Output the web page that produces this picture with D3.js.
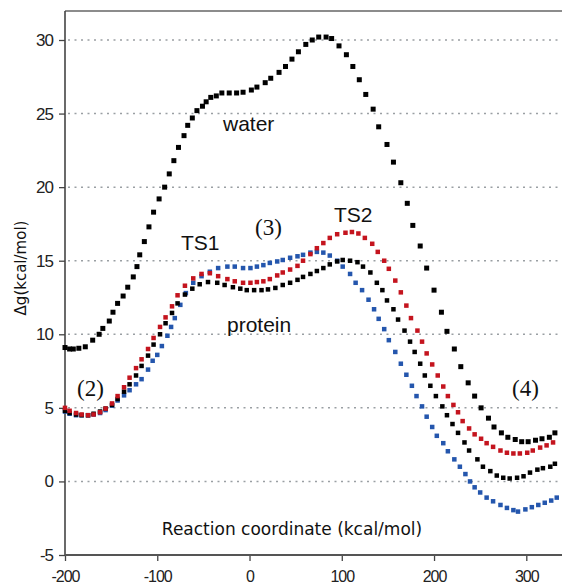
<!DOCTYPE html>
<html>
<head>
<meta charset="utf-8">
<script src="https://cdn.jsdelivr.net/npm/d3@7"></script>
<style>
  body { margin: 0; background: #fff; }
  svg { display: block; }
  .tick text { font-family: "Liberation Sans", Arial, sans-serif; font-size: 17px; letter-spacing: -1px; fill: #222; }
  .xaxis .tick text { font-size: 16px; }
  .grid line { stroke: #9a9fa3; stroke-width: 1.5; stroke-dasharray: 2,4.5; }
  .note { font-family: "Liberation Sans", Arial, sans-serif; font-size: 21px; fill: #111; }
  .state { font-family: "Liberation Serif", "Times New Roman", serif; font-size: 23px; fill: #111; }
  .title { font-family: "DejaVu Sans", sans-serif; fill: #111; }
</style>
</head>
<body>
<svg id="chart" width="562" height="586"></svg>
<script>
"use strict";

// Free energy profiles, x = reaction coordinate, y = dg (kcal/mol)
const waterX = [-200, -195, -191, -185, -178, -170, -163, -159, -152, -148, -143, -137, -132, -126, -122, -119,
    -114, -109, -104, -98, -92, -87, -82, -77, -71, -67, -62, -57, -51, -47, -42, -36, -30, -22, -14, -7,
    2, 8, 17, 23, 32, 39, 46, 53, 61, 68, 75, 83, 89, 97, 105, 112, 119, 126, 134, 140, 149, 156, 164,
    171, 177, 185, 192, 200, 208, 214, 222, 229, 237, 244, 251, 259, 265, 273, 280, 288, 295, 302, 310,
    317, 325, 331];
const waterY = [9.1, 9.0, 9.0, 9.05, 9.15, 9.6, 10.0, 10.4, 10.9, 11.5, 12.1, 12.6, 13.2, 13.9, 14.6, 15.4,
    16.3, 17.3, 18.3, 19.2, 20.0, 20.9, 21.8, 22.7, 23.5, 24.2, 24.7, 25.2, 25.5, 25.8, 26.1, 26.2, 26.4, 26.4, 26.4, 26.45,
    26.6, 26.8, 27.1, 27.4, 27.8, 28.2, 28.7, 29.2, 29.7, 30.0, 30.2, 30.2, 30.1, 29.6, 29.0, 28.2, 27.3, 26.3, 25.3, 24.1, 22.9, 21.7, 20.3,
    18.9, 17.4, 16.0, 14.5, 13.0, 11.5, 10.2, 9.0, 7.8, 6.7, 5.8, 5.0, 4.3, 3.7, 3.3, 3.0, 2.85, 2.7, 2.7, 2.8,
    2.9, 3.0, 3.3];

const blackX = [-200, -195, -188, -182, -175, -169, -162, -156, -149, -143, -136, -130, -123, -117, -110, -104,
    -97, -91, -84, -78, -70, -62, -54, -45, -35, -27, -18, -10, -3, 5, 13, 20, 28, 36, 44, 52, 58, 66, 73,
    80, 87, 95, 101, 109, 117, 123, 131, 138, 144, 149, 156, 161, 168, 174, 179, 185, 190, 196, 202, 209,
    214, 220, 226, 233, 238, 247, 253, 261, 268, 275, 282, 290, 297, 304, 312, 318, 326, 331];
const blackY = [4.8, 4.65, 4.55, 4.5, 4.5, 4.6, 4.75, 4.95, 5.2, 5.6, 6.1, 6.6, 7.2, 7.85, 8.55, 9.3,
    10.0, 10.75, 11.45, 12.1, 12.7, 13.1, 13.4, 13.55, 13.5, 13.35, 13.2, 13.1, 13.0, 13.0, 13.0, 13.05, 13.15, 13.35, 13.5, 13.7, 13.9, 14.1, 14.3,
    14.5, 14.75, 14.95, 15.05, 15.0, 14.9, 14.6, 14.2, 13.5, 13.0, 12.3, 11.7, 11.0, 10.25, 9.5, 8.8, 8.0, 7.2, 6.5, 5.8, 5.1,
    4.5, 3.9, 3.3, 2.65, 2.1, 1.5, 1.0, 0.7, 0.4, 0.25, 0.2, 0.25, 0.35, 0.6, 0.8, 0.9, 1.0, 1.2];

const redX = [-200, -195, -188, -182, -175, -169, -162, -156, -149, -143, -136, -130, -123, -117, -110, -104,
    -97, -91, -84, -78, -70, -61, -52, -43, -34, -24, -16, -7, 1, 8, 15, 22, 30, 36, 44, 52, 58, 66, 73,
    80, 87, 95, 104, 111, 118, 125, 133, 139, 146, 151, 158, 164, 170, 175, 182, 187, 192, 198, 204, 210,
    215, 221, 226, 231, 238, 244, 251, 257, 264, 272, 279, 286, 293, 301, 307, 315, 322, 329];
const redY = [5.0, 4.8, 4.65, 4.55, 4.5, 4.55, 4.7, 4.95, 5.3, 5.8, 6.4, 7.05, 7.7, 8.3, 9.0, 9.75,
    10.5, 11.15, 11.9, 12.65, 13.3, 13.8, 14.1, 14.15, 13.95, 13.75, 13.6, 13.5, 13.5, 13.55, 13.6, 13.75, 14.0, 14.2, 14.4, 14.65, 15.0, 15.45, 15.85,
    16.2, 16.55, 16.8, 16.9, 16.95, 16.85, 16.55, 16.15, 15.6, 15.0, 14.45, 13.65, 12.85, 11.95, 11.1, 10.25, 9.5, 8.7, 7.95, 7.2, 6.45,
    5.8, 5.2, 4.7, 4.1, 3.6, 3.2, 2.9, 2.6, 2.35, 2.1, 1.95, 1.9, 1.9, 1.95, 2.1, 2.3, 2.45, 2.65];

const blueX = [-200, -195, -188, -182, -175, -169, -162, -156, -149, -143, -136, -130, -123, -117, -110, -105,
    -100, -95, -89, -85, -81, -75, -69, -61, -52, -43, -34, -24, -16, -7, 1, 8, 15, 22, 30, 36, 44, 52, 58,
    66, 73, 80, 87, 95, 101, 109, 115, 122, 129, 135, 140, 146, 151, 158, 164, 170, 176, 181, 187, 192,
    198, 203, 210, 215, 222, 228, 234, 239, 244, 250, 257, 264, 272, 279, 286, 291, 299, 306, 313, 320, 327, 333];
const blueY = [4.75, 4.6, 4.5, 4.5, 4.5, 4.55, 4.65, 4.85, 5.15, 5.5, 5.85, 6.2, 6.6, 6.95, 7.6, 8.2,
    8.6, 9.2, 9.9, 10.5, 11.1, 12.0, 12.8, 13.5, 13.95, 14.25, 14.5, 14.6, 14.6, 14.5, 14.5, 14.6, 14.7, 14.85, 14.95, 15.05, 15.2, 15.3, 15.4,
    15.55, 15.6, 15.55, 15.35, 15.0, 14.6, 14.1, 13.5, 13.0, 12.35, 11.7, 11.05, 10.35, 9.6, 8.8, 8.0, 7.25, 6.5, 5.8, 5.1, 4.4,
    3.7, 3.1, 2.6, 2.05, 1.5, 1.0, 0.5, 0.0, -0.4, -0.75, -1.1, -1.35, -1.6, -1.8, -1.95, -2.05, -1.9, -1.75, -1.6, -1.45, -1.3, -1.1];

const xTicks = [-200, -100, 0, 100, 200, 300];
const yTicks = [-5, 0, 5, 10, 15, 20, 25, 30];

const svg = d3.select("#chart");
const plotLeft = 65, plotRight = 562, plotTop = 11, plotBottom = 555;

const x = d3.scaleLinear().domain([-200, 300]).range([plotLeft, 526.3]);
const y = d3.scaleLinear().domain([-5, 30]).range([plotBottom, 40]);

// Plain hyphen for negatives, as in the original figure.
const plainFormat = d => String(d);

// Dotted horizontal grid lines.
svg.append("g")
    .attr("class", "grid")
    .selectAll("line")
    .data(yTicks.filter(d => d > -5))
    .join("line")
    .attr("x1", plotLeft + 3)
    .attr("x2", plotRight)
    .attr("y1", d => y(d))
    .attr("y2", d => y(d));

// Frame: top line, left axis, bottom axis.
svg.append("line")
    .attr("x1", plotLeft).attr("x2", plotRight)
    .attr("y1", plotTop).attr("y2", plotTop)
    .attr("stroke", "#666").attr("stroke-width", 1.3);

let yAxis = svg.append("g")
    .attr("transform", "translate(" + plotLeft + ",0)")
    .call(d3.axisLeft(y).tickValues(yTicks).tickFormat(plainFormat).tickSize(6).tickPadding(6));
yAxis.select(".domain").remove();
yAxis.selectAll(".tick line").attr("stroke", "#444").attr("stroke-width", 1.3);

let xAxis = svg.append("g")
    .attr("class", "xaxis")
    .attr("transform", "translate(0," + plotBottom + ")")
    .call(d3.axisBottom(x).tickValues(xTicks).tickFormat(plainFormat).tickSize(6).tickPadding(9.5));
xAxis.select(".domain").remove();
xAxis.selectAll(".tick line").attr("stroke", "#444").attr("stroke-width", 1.3);

svg.append("line")
    .attr("x1", plotLeft).attr("x2", plotLeft)
    .attr("y1", plotTop).attr("y2", plotBottom + 1)
    .attr("stroke", "#444").attr("stroke-width", 1.6);
svg.append("line")
    .attr("x1", plotLeft).attr("x2", plotRight)
    .attr("y1", plotBottom).attr("y2", plotBottom)
    .attr("stroke", "#555").attr("stroke-width", 2);

// Square markers for each profile.
function drawSeries(xs, ys, color, size) {
    svg.append("g")
        .selectAll("rect")
        .data(xs.map((d, i) => [d, ys[i]]))
        .join("rect")
        .attr("x", d => x(d[0]) - size / 2)
        .attr("y", d => y(d[1]) - size / 2)
        .attr("width", size)
        .attr("height", size)
        .attr("fill", color);
}

drawSeries(waterX, waterY, "#000", 5);
drawSeries(blueX, blueY, "#2456ad", 4.5);
drawSeries(blackX, blackY, "#000", 4.5);
drawSeries(redX, redY, "#c4141e", 4.5);

// Annotations.
svg.append("text").attr("class", "note").attr("x", 223).attr("y", 131).text("water");
svg.append("text").attr("class", "note").attr("x", 181).attr("y", 250).text("TS1");
svg.append("text").attr("class", "note").attr("x", 334).attr("y", 222).text("TS2");
svg.append("text").attr("class", "note").attr("x", 227).attr("y", 332).text("protein");
svg.append("text").attr("class", "state").attr("x", 255).attr("y", 235).text("(3)");
svg.append("text").attr("class", "state").attr("x", 77).attr("y", 396).text("(2)");
svg.append("text").attr("class", "state").attr("x", 512).attr("y", 396).text("(4)");

svg.append("text")
    .attr("class", "title")
    .attr("x", 292).attr("y", 535)
    .attr("text-anchor", "middle")
    .style("font-size", "17px")
    .text("Reaction coordinate (kcal/mol)");

svg.append("text")
    .attr("class", "title")
    .attr("transform", "translate(26,268) rotate(-90)")
    .attr("text-anchor", "middle")
    .style("font-size", "15px")
    .text("Δg(kcal/mol)");
</script>
</body>
</html>
